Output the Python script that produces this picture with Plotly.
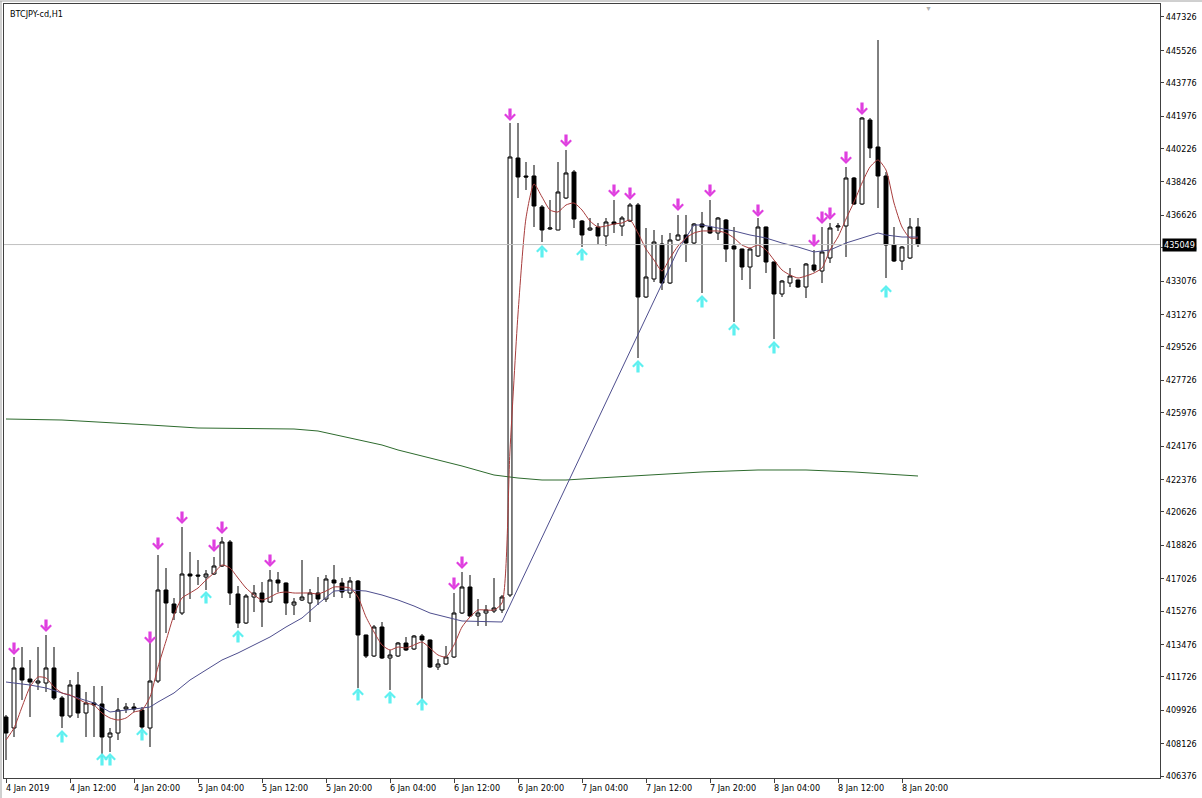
import plotly.graph_objects as go

# ---------------- data ----------------
bars = list(range(115))

opens = [409561, 408967, 412205, 411611, 411395, 411395, 412205, 410586, 409615, 411287,
         409776, 410316, 410262, 408482, 408697, 409992, 410100, 409938, 408967, 411503,
         416412, 415657, 415171, 417275, 417221, 417113, 417275, 417707, 419002, 416196,
         414632, 416034, 416250, 415765, 416952, 416790, 415603, 415873, 415711, 416250,
         415927, 416952, 416790, 416250, 416898, 413985, 412852, 414416, 412744, 412852,
         413553, 413229, 413931, 413715, 412259, 412421, 412798, 415171, 416574, 415010,
         415171, 415279, 415333, 416142, 439719, 438748, 438748, 437075, 435888, 435834,
         437561, 438964, 436320, 435834, 435996, 435511, 436266, 436050, 436320, 437183,
         432220, 433191, 435079, 432975, 435295, 435565, 435133, 436158, 435996, 435673,
         436374, 434971, 434809, 433838, 434432, 435996, 434108, 432381, 432975, 433137,
         432759, 433946, 433622, 434324, 435996, 436050, 438640, 437237, 441769, 440312,
         438748, 435025, 434162, 434324, 435996]

highs = [409669, 412798, 413337, 412636, 413337, 413985, 413337, 410694, 411557, 411989,
         410910, 411233, 411233, 408967, 410586, 410316, 410316, 410100, 413553, 418301,
         417599, 415980, 419811, 418463, 418031, 417491, 418193, 419272, 419110, 416628,
         416196, 416682, 416844, 417491, 417383, 416820, 415980, 418031, 416466, 417113,
         417221, 417761, 417059, 417113, 416952, 414000, 414524, 414686, 413176, 413607,
         413877, 413985, 414039, 413740, 412690, 413391, 416250, 417383, 417221, 415927,
         415603, 417059, 416142, 441607, 441607, 439503, 439341, 437183, 437453, 439503,
         440151, 439072, 436374, 436482, 436212, 436482, 437453, 436590, 437291, 437291,
         435942, 435834, 435565, 435673, 436644, 436644, 436212, 436806, 437453, 436536,
         436428, 435996, 434830, 434863, 436482, 436020, 434130, 433137, 433784, 433160,
         434054, 434756, 435996, 436212, 436212, 439233, 438694, 441931, 441877, 446085,
         438964, 435996, 434971, 436482, 436482]

lows = [407241, 408482, 410478, 409561, 411018, 410910, 410478, 408967, 409507, 409507,
        408482, 408482, 407402, 407672, 408320, 409776, 409830, 408859, 407942, 411395,
        414092, 414794, 415064, 415927, 416682, 416412, 417221, 417653, 415603, 414362,
        414578, 415225, 414416, 415711, 416304, 415064, 415064, 415819, 414686, 415603,
        415765, 416034, 415980, 415980, 411126, 412744, 412798, 412690, 411018, 412798,
        413122, 413176, 410478, 412205, 412097, 412367, 412744, 415117, 414956, 414470,
        414470, 415171, 415171, 416034, 437561, 437993, 435996, 435187, 435834, 435820,
        437507, 435942, 434917, 435780, 435025, 434971, 435673, 435511, 436266, 428929,
        432166, 433029, 432597, 432921, 435241, 434108, 435079, 432435, 435619, 435295,
        434108, 430871, 433137, 432651, 434378, 433515, 429954, 432220, 432759, 432705,
        432166, 433568, 432975, 434054, 435780, 434378, 437183, 437183, 439719, 437021,
        433245, 434108, 433676, 434270, 434917]

closes = [408697, 412205, 411557, 411449, 411503, 412205, 410586, 409615, 411287, 409776,
          410316, 410208, 408482, 408697, 409938, 410100, 409992, 409021, 411503, 416412,
          415711, 415171, 417275, 417167, 417167, 417275, 417707, 419002, 416250, 414632,
          416088, 416250, 415765, 416952, 416790, 415711, 415765, 416034, 416250, 415927,
          417005, 416790, 416304, 416898, 413985, 412852, 414416, 412744, 412906, 413553,
          413176, 413931, 413715, 412259, 412421, 412798, 415171, 416574, 415010, 415171,
          415333, 415441, 416034, 439773, 438694, 438694, 437129, 435834, 435942, 437885,
          438910, 436428, 435565, 435942, 435511, 436266, 436158, 436482, 437183, 432220,
          433299, 435187, 432975, 435295, 435565, 435133, 436158, 435996, 435673, 436482,
          434809, 434809, 433838, 434809, 435996, 434108, 432381, 433083, 433353, 432759,
          434000, 433676, 434648, 435942, 436050, 438640, 437237, 441877, 440258, 438748,
          435025, 434162, 434917, 435996, 435049]

# fast moving average (red), read at every bar
red_ma = [408320, 408967, 410100, 411179, 411719, 411665, 411179, 410856, 410748, 410532,
          410316, 410208, 409776, 409507, 409399, 409507, 409830, 409938, 410640, 412259,
          413661, 415064, 415980, 416250, 416520, 416952, 417330, 417761, 417599, 417059,
          416520, 416142, 415873, 416034, 416250, 416304, 416250, 416250, 416250, 416196,
          416358, 416574, 416574, 416520, 416034, 414956, 414147, 413446, 413176, 413337,
          413283, 413446, 413607, 413283, 412906, 412798, 413446, 414416, 414956, 415333,
          415333, 415333, 415711, 423966, 431303, 436482, 438316, 437615, 436914, 436806,
          437183, 437291, 436914, 436320, 435996, 436050, 436158, 436212, 436374, 435673,
          434809, 434216, 433622, 434324, 434971, 435403, 435673, 435780, 435780, 435780,
          435673, 435403, 435025, 434863, 435025, 434756, 434216, 433676, 433407, 433245,
          433353, 433515, 433784, 434756, 435457, 436428, 437345, 438370, 439233, 439611,
          439072, 437291, 435996, 435403, 435403]

# slow moving average (blue), read at bars where it bends
blue_bars = [0, 3, 5, 7, 9, 11, 13, 15, 17, 18, 19, 21, 23, 25, 27, 29, 31, 33, 35, 37,
             39, 41, 43, 45, 47, 49, 51, 53, 55, 57, 62, 82, 84, 86, 87, 89, 91, 93, 95,
             97, 99, 101, 103, 105, 107, 109, 110, 112, 114]
blue_ma = [411449, 411287, 411126, 410856, 410586, 410316, 409830, 409938, 410046, 410100,
           410370, 410856, 411557, 412097, 412636, 413014, 413446, 413877, 414416, 414902,
           415657, 416358, 416412, 416358, 416142, 415873, 415549, 415171, 414956, 414740,
           414686, 432975, 434756, 436104, 436104, 435942, 435780, 435565, 435403, 435133,
           434917, 434648, 434756, 435133, 435403, 435673, 435565, 435457, 435457]

# long moving average (green)
green_bars = [0, 7, 18, 24, 36, 39, 43, 47, 49, 53, 57, 61, 64, 67, 70, 74, 80, 87, 94,
              100, 106, 114]
green_ma = [425638, 425584, 425314, 425152, 425098, 424990, 424613, 424235, 423966, 423534,
            423102, 422617, 422455, 422347, 422347, 422455, 422617, 422779, 422887, 422887,
            422779, 422563]

# signal arrows (centre of each arrow)
sell_bars = [1, 5, 18, 19, 22, 26, 27, 33, 56, 57, 63, 70, 76, 78, 84, 88, 94, 101, 102,
             103, 105, 107]
sell_vals = [413283, 414524, 413877, 418948, 420351, 418840, 419811, 418031, 416790, 417923,
             442093, 440690, 437993, 437831, 437237, 437993, 436913, 435295, 436536, 436752,
             439773, 442416]
buy_bars = [7, 12, 13, 17, 25, 29, 44, 48, 52, 67, 72, 79, 87, 91, 96, 110]
buy_vals = [408482, 407241, 407241, 408590, 415980, 413877, 410748, 410586, 410208, 434648,
            434486, 428443, 431950, 430439, 429468, 432490]

last_price = 435049

x_tick_bars = [0, 8, 16, 24, 32, 40, 48, 56, 64, 72, 80, 88, 96, 104, 112]
x_tick_labels = ["4 Jan 2019", "4 Jan 12:00", "4 Jan 20:00", "5 Jan 04:00", "5 Jan 12:00",
                 "5 Jan 20:00", "6 Jan 04:00", "6 Jan 12:00", "6 Jan 20:00", "7 Jan 04:00",
                 "7 Jan 12:00", "7 Jan 20:00", "8 Jan 04:00", "8 Jan 12:00", "8 Jan 20:00"]

y_ticks = [447326, 445526, 443776, 441976, 440226, 438426, 436626, 434876, 433076, 431276,
           429526, 427726, 425976, 424176, 422376, 420626, 418826, 417026, 415276, 413476,
           411726, 409926, 408126, 406376]

title_text = "BTCJPY-cd,H1"

# ---------------- figure ----------------
FONT = "Tahoma, 'DejaVu Sans Condensed', 'DejaVu Sans', sans-serif"
AXC = "#404040"
PINK = "#df3fdf"
CYAN = "#5ef0f0"

fig = go.Figure()

fig.add_trace(go.Scatter(x=green_bars, y=green_ma, mode="lines",
                         line=dict(color="#2e6b2e", width=1), hoverinfo="skip"))

fig.add_trace(go.Candlestick(
    x=bars, open=opens, high=highs, low=lows, close=closes,
    increasing=dict(line=dict(color="black", width=1), fillcolor="white"),
    decreasing=dict(line=dict(color="black", width=1), fillcolor="black"),
    whiskerwidth=0, hoverinfo="skip"))

fig.add_trace(go.Scatter(x=blue_bars, y=blue_ma, mode="lines",
                         line=dict(color="#4e4e8e", width=1), hoverinfo="skip"))
fig.add_trace(go.Scatter(x=bars, y=red_ma, mode="lines",
                         line=dict(color="#a83c3c", width=1, shape="spline", smoothing=0.6),
                         hoverinfo="skip"))

annotations = []
# arrows drawn as annotation arrows: tip at the signal, thick stem, chevron head
for b, v in zip(sell_bars, sell_vals):
    annotations.append(dict(x=b, y=v, xref="x", yref="y", text="", showarrow=True,
                            arrowhead=4, arrowsize=0.62, arrowwidth=3.2, arrowcolor=PINK,
                            ax=0, ay=-14, yshift=-7, standoff=0, startstandoff=0))
for b, v in zip(buy_bars, buy_vals):
    annotations.append(dict(x=b, y=v, xref="x", yref="y", text="", showarrow=True,
                            arrowhead=4, arrowsize=0.62, arrowwidth=3.2, arrowcolor=CYAN,
                            ax=0, ay=14, yshift=7, standoff=0, startstandoff=0))

for b, lab in zip(x_tick_bars, x_tick_labels):
    annotations.append(dict(x=b, y=0, xref="x", yref="paper", text=lab, showarrow=False,
                            xanchor="left", yanchor="top", xshift=-2, yshift=-3,
                            font=dict(family=FONT, size=9, color="black")))
annotations.append(dict(x=0, y=1, xref="paper", yref="paper", text=title_text, showarrow=False,
                        xanchor="left", yanchor="top", xshift=4, yshift=-3,
                        font=dict(family=FONT, size=9, color="black")))
annotations.append(dict(x=1, y=last_price, xref="paper", yref="y", text=str(last_price),
                        showarrow=False, xanchor="left", yanchor="middle", xshift=2,
                        bgcolor="black", borderpad=1,
                        font=dict(family=FONT, size=9, color="white")))
annotations.append(dict(x=115.3, y=1, xref="x", yref="paper", text="\u25bc", showarrow=False,
                        xanchor="center", yanchor="top", yshift=2,
                        font=dict(size=7, color="#b0b0b0")))

shapes = [
    dict(type="line", xref="paper", yref="y", x0=0, x1=1, y0=last_price, y1=last_price,
         line=dict(color="#c0c0c0", width=1)),
    dict(type="line", xref="paper", yref="paper", x0=-4 / 1156, x1=1198 / 1156,
         y0=1 + 3 / 774, y1=1 + 3 / 774, line=dict(color="#a0a0a0", width=1)),
    dict(type="line", xref="paper", yref="paper", x0=-3 / 1156, x1=-3 / 1156,
         y0=-20 / 774, y1=1 + 3 / 774, line=dict(color="#a0a0a0", width=1)),
]

fig.update_layout(
    width=1202, height=798, autosize=False,
    margin=dict(l=4, r=42, t=4, b=20, autoexpand=False),
    paper_bgcolor="white", plot_bgcolor="white",
    showlegend=False, hovermode=False,
    annotations=annotations, shapes=shapes,
    xaxis=dict(range=[-0.25, 144.25], tickvals=x_tick_bars, ticktext=[""] * len(x_tick_bars),
               ticks="outside", ticklen=4, tickcolor=AXC, showgrid=False, zeroline=False,
               showline=True, linecolor=AXC, mirror=True, rangeslider=dict(visible=False)),
    yaxis=dict(side="right", range=[406270, 448027], tickvals=y_ticks,
               ticktext=[str(v) for v in y_ticks], ticks="outside", ticklen=3, tickcolor=AXC,
               tickfont=dict(family=FONT, size=9, color="black"),
               showgrid=False, zeroline=False, showline=True, linecolor=AXC, mirror=True),
)

fig.write_html("out.html", config={"displayModeBar": False},
               post_script="document.body.style.margin='0';document.body.style.overflow='hidden';")
